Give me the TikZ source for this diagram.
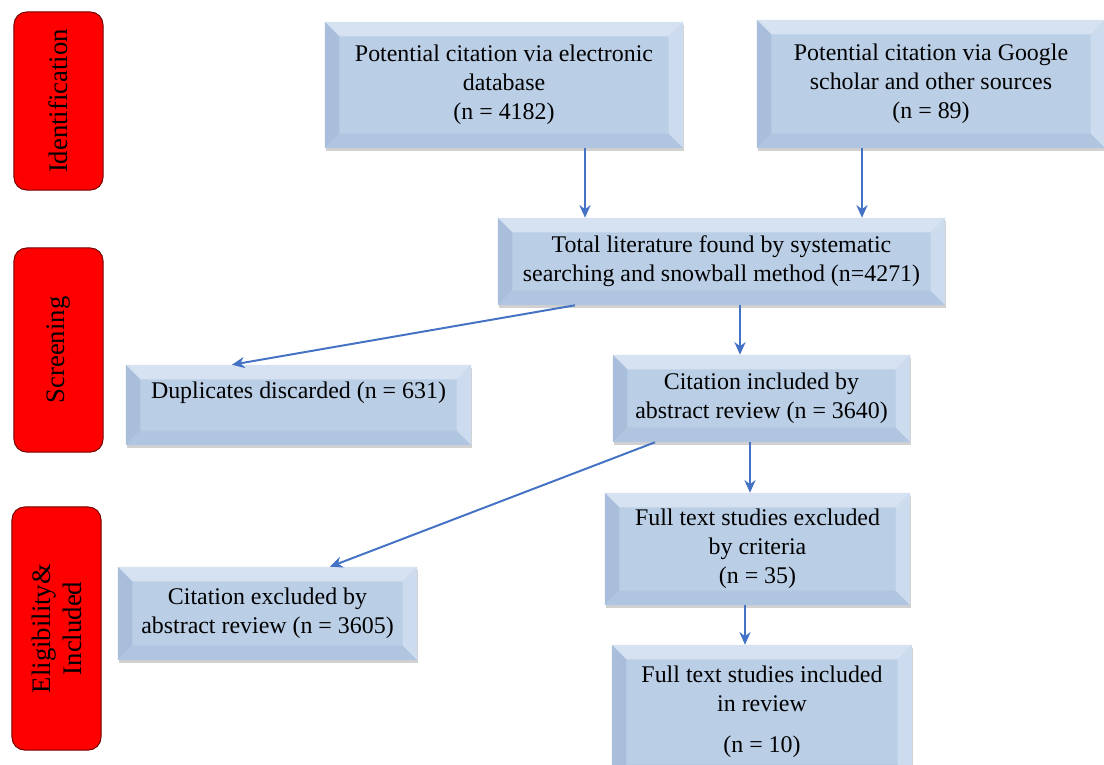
\documentclass[tikz,border=0pt]{standalone}
\usepackage{fontspec}
\setmainfont{Liberation Serif}
\usetikzlibrary{calc,arrows.meta,shadows}

\definecolor{boxblue}{RGB}{186,206,230}
\definecolor{bevtop}{RGB}{214,226,241}
\definecolor{bevleft}{RGB}{168,190,218}
\definecolor{bevbottom}{RGB}{176,197,224}
\definecolor{bevright}{RGB}{204,219,237}
\definecolor{arrowblue}{RGB}{68,114,196}
\newcommand{\boxfont}{\fontsize{17}{20.5}\selectfont}
\newcommand{\sidefont}{\fontsize{19}{22}\selectfont}
\newcommand{\bev}{0.36cm}

\tikzset{
  bevelbox/.style={fill=boxblue, align=center, font=\boxfont,
    drop shadow={shadow xshift=1pt, shadow yshift=-2pt, opacity=0.3, fill=black!60},
    path picture={
      \path (path picture bounding box.north west) coordinate (bnw)
            (path picture bounding box.south east) coordinate (bse);
      \fill[bevtop] (bnw) -- (bnw -| bse) -- ($(bnw -| bse)+(-\bev,-\bev)$) -- ($(bnw)+(\bev,-\bev)$) -- cycle;
      \fill[bevleft] (bnw) -- (bnw |- bse) -- ($(bnw |- bse)+(\bev,\bev)$) -- ($(bnw)+(\bev,-\bev)$) -- cycle;
      \fill[bevbottom] (bnw |- bse) -- (bse) -- ($(bse)+(-\bev,\bev)$) -- ($(bnw |- bse)+(\bev,\bev)$) -- cycle;
      \fill[bevright] (bse) -- (bnw -| bse) -- ($(bnw -| bse)+(-\bev,-\bev)$) -- ($(bse)+(-\bev,\bev)$) -- cycle;
    }},
  sidebox/.style={draw=red!45!black, line width=0.7pt, fill=red, rounded corners=9pt,
    rotate=90, align=center, font=\sidefont, inner sep=2pt},
  flowarrow/.style={draw=arrowblue, line width=1.4pt, -{Stealth[length=9pt,width=8pt]}},
}

\begin{document}
\begin{tikzpicture}[x=0.025cm, y=-0.025cm]
  \useasboundingbox (0,0) rectangle (1104,764);

  % stage labels
  \node[sidebox, minimum width=4.45cm, minimum height=2.225cm] (ident) at (58.5,101) {Identification};
  \node[sidebox, minimum width=5.1cm, minimum height=2.225cm] (screen) at (58.5,350) {Screening};
  \node[sidebox, minimum width=6.075cm, minimum height=2.225cm] (elig) at (56.5,628.5) {Eligibility\&\\Included};

  % boxes
  \node[bevelbox, minimum width=8.95cm, minimum height=3.15cm] (elec) at (504,85)
    {Potential citation via electronic\\database\\(n = 4182)};
  \node[bevelbox, minimum width=8.7cm, minimum height=3.2cm] (google) at (931,84)
    {Potential citation via Google\\scholar and other sources\\(n = 89)};
  \node[bevelbox, minimum width=11.175cm, minimum height=2.175cm] (total) at (721.5,261.5)
    {Total literature found by systematic\\searching and snowball method (n=4271)};
  \node[bevelbox, minimum width=8.625cm, minimum height=2cm] (dupl) at (298.5,405)
    {Duplicates discarded (n = 631)\\ \mbox{}};
  \node[bevelbox, minimum width=7.425cm, minimum height=2.175cm] (incl) at (761.5,398.5)
    {Citation included by\\abstract review (n = 3640)};
  \node[bevelbox, minimum width=7.625cm, minimum height=2.8cm] (fullexcl) at (757.5,549)
    {Full text studies excluded\\by criteria\\(n = 35)};
  \node[bevelbox, minimum width=7.475cm, minimum height=2.325cm] (absexcl) at (267.5,613.5)
    {Citation excluded by\\abstract review (n = 3605)};
  \node[bevelbox, minimum width=7.5cm, minimum height=3.35cm] (fullincl) at (762,712)
    {Full text studies included\\in review\\[9pt](n = 10)};

  % connectors
  \draw[flowarrow] ([xshift=2.025cm]elec.south) -- ([xshift=2.025cm]elec.south |- total.north);
  \draw[flowarrow] ([xshift=-1.725cm]google.south) -- ([xshift=-1.725cm]google.south |- total.north);
  \draw[flowarrow] ([xshift=-3.6625cm]total.south) -- ([xshift=-1.6625cm]dupl.north);
  \draw[flowarrow] ([xshift=0.4625cm]total.south) -- ([xshift=0.4625cm]total.south |- incl.north);
  \draw[flowarrow] ([xshift=-2.6625cm]incl.south) -- ([xshift=1.5625cm]absexcl.north);
  \draw[flowarrow] ([xshift=-0.2875cm]incl.south) -- ([xshift=-0.2875cm]incl.south |- fullexcl.north);
  \draw[flowarrow] ([xshift=-0.3125cm]fullexcl.south) -- ([xshift=-0.3125cm]fullexcl.south |- fullincl.north);
\end{tikzpicture}
\end{document}
